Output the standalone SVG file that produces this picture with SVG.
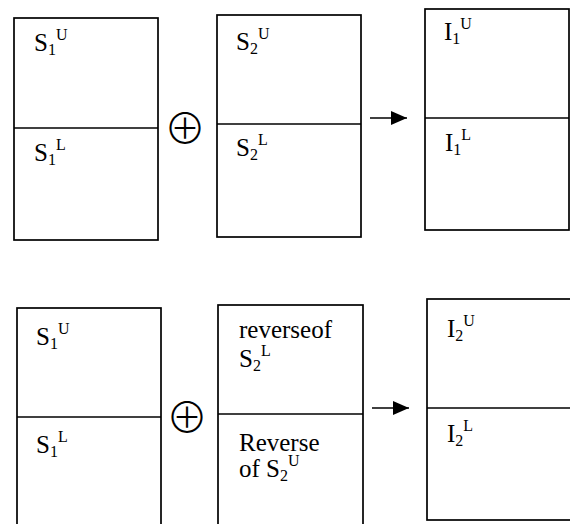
<svg xmlns="http://www.w3.org/2000/svg" width="570" height="524" viewBox="0 0 570 524">
<style>
.box{fill:#fff;stroke:#000;stroke-width:1.7}
.div{stroke:#000;stroke-width:1.7}
text{font-family:"Liberation Serif","Times New Roman",serif;font-size:25px;fill:#000}
.s{font-size:16px}
.op{font-family:"Noto Sans CJK JP","DejaVu Sans",sans-serif;font-size:42px;font-weight:300}
.arr{stroke:#000;stroke-width:1.7;fill:none}
</style>
<defs>
<marker id="ah" viewBox="0 0 10 10" refX="10" refY="5" markerWidth="16" markerHeight="14" markerUnits="userSpaceOnUse" orient="auto" preserveAspectRatio="none">
<path d="M0,0 L10,5 L0,10 Z" fill="#000"/>
</marker>
</defs>
<g id="box-s1-top">
<rect class="box" x="14" y="18" width="144" height="222"/>
<line class="div" x1="14" y1="128" x2="158" y2="128"/>
<text x="34" y="51">S<tspan class="s" dy="4">1</tspan><tspan class="s" dy="-15">U</tspan></text>
<text x="34" y="161">S<tspan class="s" dy="4">1</tspan><tspan class="s" dy="-15">L</tspan></text>
</g>
<g id="op1"><text class="op" x="185" y="144" text-anchor="middle">⊕</text></g>
<g id="box-s2-top">
<rect class="box" x="217" y="15" width="144" height="222"/>
<line class="div" x1="217" y1="124" x2="361" y2="124"/>
<text x="236" y="50">S<tspan class="s" dy="4">2</tspan><tspan class="s" dy="-15">U</tspan></text>
<text x="236" y="156">S<tspan class="s" dy="4">2</tspan><tspan class="s" dy="-15">L</tspan></text>
</g>
<g id="box-i1">
<rect class="box" x="425" y="9" width="144" height="221"/>
<line class="div" x1="425" y1="118" x2="569" y2="118"/>
<text x="444" y="40">I<tspan class="s" dy="4">1</tspan><tspan class="s" dy="-15">U</tspan></text>
<text x="445" y="151">I<tspan class="s" dy="4">1</tspan><tspan class="s" dy="-15">L</tspan></text>
</g>
<g id="box-s1-bottom">
<rect class="box" x="17" y="308" width="144" height="230"/>
<line class="div" x1="17" y1="417" x2="161" y2="417"/>
<text x="36" y="345">S<tspan class="s" dy="4">1</tspan><tspan class="s" dy="-15">U</tspan></text>
<text x="36" y="453">S<tspan class="s" dy="4">1</tspan><tspan class="s" dy="-15">L</tspan></text>
</g>
<g id="op2"><text class="op" x="187" y="433" text-anchor="middle">⊕</text></g>
<g id="box-s2-rev">
<rect class="box" x="218" y="305" width="145" height="230"/>
<line class="div" x1="218" y1="414" x2="363" y2="414"/>
<text x="239" y="338">reverseof</text>
<text x="239" y="367">S<tspan class="s" dy="4">2</tspan><tspan class="s" dy="-15">L</tspan></text>
<text x="239" y="451">Reverse</text>
<text x="239" y="477">of S<tspan class="s" dy="4">2</tspan><tspan class="s" dy="-15">U</tspan></text>
</g>
<g id="box-i2">
<rect class="box" x="427" y="299" width="145" height="221"/>
<line class="div" x1="427" y1="408" x2="572" y2="408"/>
<text x="447" y="337">I<tspan class="s" dy="4">2</tspan><tspan class="s" dy="-15">U</tspan></text>
<text x="447" y="442">I<tspan class="s" dy="4">2</tspan><tspan class="s" dy="-15">L</tspan></text>
</g>
<g id="connectors">
<line class="arr" x1="370" y1="118" x2="407" y2="118" marker-end="url(#ah)"/>
<line class="arr" x1="372" y1="408" x2="409" y2="408" marker-end="url(#ah)"/>
</g>
</svg>
